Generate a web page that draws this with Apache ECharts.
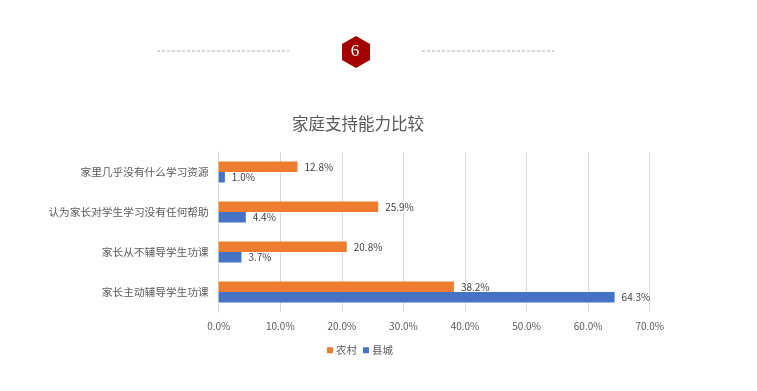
<!DOCTYPE html>
<html><head><meta charset="utf-8">
<style>html,body{margin:0;padding:0;background:#fff}#c{width:757px;height:391px}</style>
<script src="https://cdn.jsdelivr.net/npm/echarts@6/dist/echarts.min.js"></script>
</head><body><div id="c"></div>
<script>
const categories = ['家长主动辅导学生功课','家长从不辅导学生功课','认为家长对学生学习没有任何帮助','家里几乎没有什么学习资源'];
const rural = [38.2,20.8,25.9,12.8];
const county = [64.3,3.7,4.4,1.0];
const seriesNames = ['农村','县城'];
const chartTitle = '家庭支持能力比较';
const badge = '6';
const font = '"Noto Sans CJK SC","Noto Sans",sans-serif';
const chart = echarts.init(document.getElementById('c'));
const label = {show:true,position:'right',distance:7,fontSize:10,color:'#404040',fontFamily:font,formatter:p=>p.value.toFixed(1)+'%'};
const dash = (x1,x2)=>({type:'line',shape:{x1,y1:51,x2,y2:51},style:{stroke:'#aaa',lineWidth:1,lineDash:[3,2]}});
chart.setOption({
  animation:false,
  backgroundColor:'#fff',
  title:{text:chartTitle,left:358,top:110,textAlign:'center',textStyle:{fontSize:16.5,fontWeight:'normal',color:'#595959',fontFamily:font}},
  legend:{data:seriesNames,left:322,top:340,itemWidth:6,itemHeight:6,itemGap:6,icon:'rect',textStyle:{fontSize:10.5,color:'#595959',fontFamily:font,padding:[0,0,0,-2]}},
  grid:{left:218.7,right:107.3,top:152,height:160,containLabel:false},
  xAxis:{type:'value',min:0,max:70,interval:10,
    axisLabel:{formatter:v=>v.toFixed(1)+'%',fontSize:10,color:'#595959',fontFamily:font,margin:9},
    axisLine:{show:false},axisTick:{show:false},
    splitLine:{show:true,lineStyle:{color:'#d9d9d9',width:1}}},
  yAxis:{type:'category',data:categories,
    axisLabel:{fontSize:10.7,color:'#595959',fontFamily:font,margin:10},
    axisLine:{show:true,lineStyle:{color:'#d9d9d9',width:1}},axisTick:{show:false}},
  series:[
    {name:seriesNames[0],type:'bar',data:rural,barWidth:10.5,barGap:'0%',itemStyle:{color:'#ed7d31'},label,z:2},
    {name:seriesNames[1],type:'bar',data:county,barWidth:10.5,barGap:'0%',itemStyle:{color:'#4472c4'},label,z:2}
  ],
  graphic:[
    dash(157,289),dash(422,554),
    {type:'polygon',shape:{points:[[356,36],[370,44],[370,60],[356,68],[342,60],[342,44]]},style:{fill:'#a50000'}},
    {type:'text',x:355,y:52,style:{text:badge,fill:'#fff',fontSize:17,fontFamily:'"Liberation Serif",serif',align:'center',verticalAlign:'middle'}}
  ]
});
chart.setOption({title:{left:353}});
</script></body></html>
